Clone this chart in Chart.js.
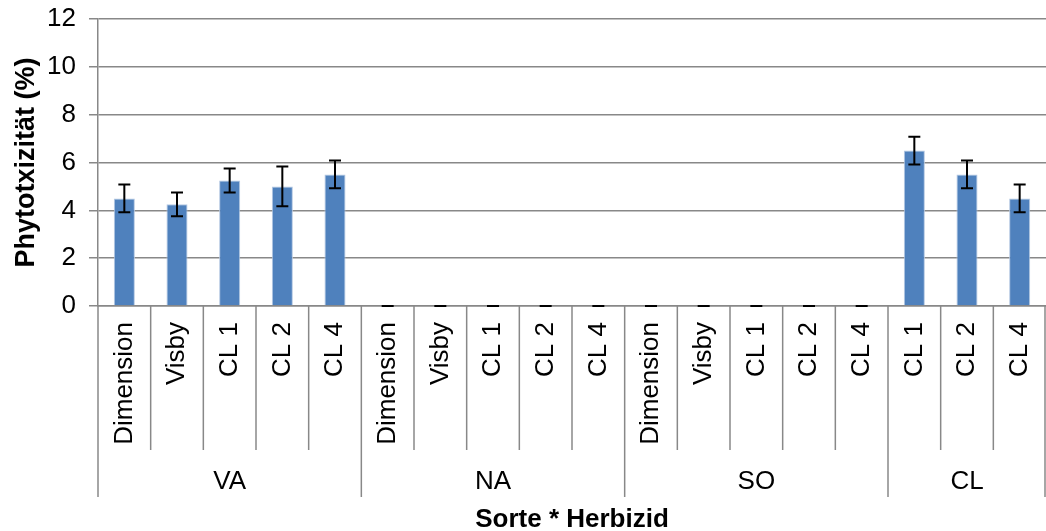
<!DOCTYPE html>
<html>
<head>
<meta charset="utf-8">
<script src="https://cdn.jsdelivr.net/npm/chart.js@4"></script>
<style>
  html, body { margin: 0; padding: 0; background: #fff; }
  #wrap { width: 1046px; height: 531px; }
</style>
</head>
<body>
<div id="wrap"><canvas id="myChart"></canvas></div>
<script>
const categories = ['Dimension', 'Visby', 'CL 1', 'CL 2', 'CL 4',
                    'Dimension', 'Visby', 'CL 1', 'CL 2', 'CL 4',
                    'Dimension', 'Visby', 'CL 1', 'CL 2', 'CL 4',
                    'CL 1', 'CL 2', 'CL 4'];
const groups = ['VA', 'NA', 'SO', 'CL'];
const groupSizes = [5, 5, 5, 3];
const values = [4.5, 4.25, 5.25, 5.0, 5.5,
                0, 0, 0, 0, 0,
                0, 0, 0, 0, 0,
                6.5, 5.5, 4.5];
const errors = [0.58, 0.5, 0.5, 0.83, 0.58,
                0, 0, 0, 0, 0,
                0, 0, 0, 0, 0,
                0.58, 0.58, 0.58];
const yTicks = [0, 2, 4, 6, 8, 10, 12];

const gridColor = '#888888';
const font = 'Liberation Sans, Arial, sans-serif';

// error bars drawn on top of the bars
const errorBars = {
  id: 'errorBars',
  afterDatasetsDraw(chart) {
    const ctx = chart.ctx;
    const y = chart.scales.y;
    const meta = chart.getDatasetMeta(0);
    ctx.save();
    ctx.strokeStyle = '#000';
    ctx.lineWidth = 2;
    meta.data.forEach((bar, i) => {
      const x = bar.x;
      const top = y.getPixelForValue(values[i] + errors[i]);
      const bot = y.getPixelForValue(values[i] - errors[i]);
      ctx.beginPath();
      ctx.moveTo(x, top); ctx.lineTo(x, bot);
      ctx.moveTo(x - 6, top); ctx.lineTo(x + 6, top);
      ctx.moveTo(x - 6, bot); ctx.lineTo(x + 6, bot);
      ctx.stroke();
    });
    ctx.restore();
  }
};

// two-level category axis: divider lines and group names
const groupAxis = {
  id: 'groupAxis',
  afterDraw(chart) {
    const ctx = chart.ctx;
    const xs = chart.scales.x;
    const base = chart.chartArea.bottom;
    const step = xs.width / categories.length;
    const groupEdges = [0];
    groupSizes.forEach(n => groupEdges.push(groupEdges[groupEdges.length - 1] + n));
    ctx.save();
    ctx.strokeStyle = gridColor;
    ctx.lineWidth = 1.5;
    for (let k = 0; k <= categories.length; k++) {
      const x = Math.min(xs.left + k * step, chart.width - 1);
      const len = groupEdges.includes(k) ? 191 : 144;
      ctx.beginPath();
      ctx.moveTo(x, base);
      ctx.lineTo(x, base + len);
      ctx.stroke();
    }
    ctx.fillStyle = '#000';
    ctx.font = '26px ' + font;
    ctx.textAlign = 'center';
    ctx.textBaseline = 'middle';
    groups.forEach((g, i) => {
      const cx = xs.left + (groupEdges[i] + groupEdges[i + 1]) / 2 * step;
      ctx.fillText(g, cx, base + 176);
    });
    ctx.restore();
  }
};

new Chart(document.getElementById('myChart'), {
  type: 'bar',
  data: {
    labels: categories,
    datasets: [{
      data: values,
      backgroundColor: '#4f81bd',
      borderColor: '#b4c8e2',
      borderWidth: 1,
      barPercentage: 0.4,
      categoryPercentage: 1
    }]
  },
  options: {
    responsive: true,
    maintainAspectRatio: false,
    animation: false,
    layout: { padding: 0 },
    plugins: { legend: { display: false }, tooltip: { enabled: false } },
    scales: {
      x: {
        afterFit(s) { s.height = 225; s.paddingLeft = 0; s.paddingRight = 0; },
        grid: { display: false, drawTicks: false },
        border: { display: true, color: gridColor, width: 1.5 },
        ticks: {
          minRotation: 90, maxRotation: 90, autoSkip: false,
          padding: 16, color: '#000',
          font: { family: font, size: 26 }
        },
        title: {
          display: true, text: 'Sorte * Herbizid', color: '#000',
          font: { family: font, size: 26, weight: 'bold' },
          padding: { top: 0, bottom: -4 }
        }
      },
      y: {
        min: 0, max: 12,
        afterFit(s) { s.width = 98; s.paddingTop = 19; s.paddingBottom = 0; },
        afterBuildTicks(s) { s.ticks = yTicks.map(v => ({ value: v })); },
        grid: { color: gridColor, lineWidth: 1.5, tickLength: 9 },
        border: { display: true, color: gridColor, width: 1.5 },
        ticks: {
          padding: 13, color: '#000',
          font: { family: font, size: 26 }
        },
        title: {
          display: true, text: 'Phytotxizität (%)', color: '#000',
          font: { family: font, size: 27, weight: 'bold' },
          padding: { top: 10, bottom: 0 }
        }
      }
    }
  },
  plugins: [errorBars, groupAxis]
});
</script>
</body>
</html>
